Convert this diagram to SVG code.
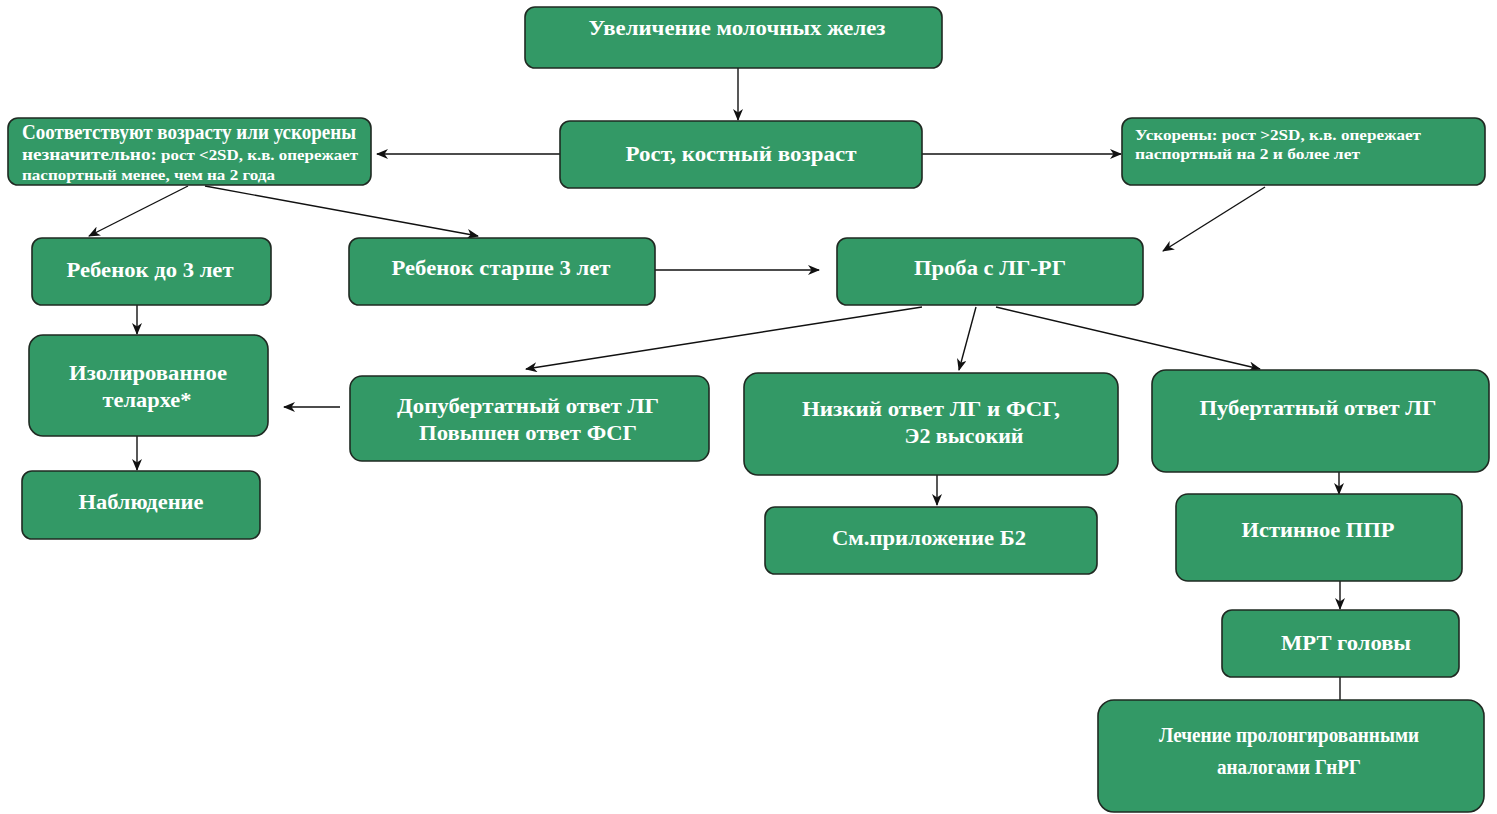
<svg xmlns="http://www.w3.org/2000/svg" width="1497" height="814" viewBox="0 0 1497 814">
<defs>
<style>
.n{fill:#339966;stroke:#1f2a22;stroke-width:1.6}
.t{font-family:"Liberation Serif","Times New Roman",serif;font-weight:bold;fill:#ffffff;font-size:20px}
.s{font-size:15px}
.c{stroke:#111;stroke-width:1.4;fill:none}
.a{marker-end:url(#ah)}
</style>
<marker id="ah" viewBox="0 0 12 10" refX="11" refY="5" markerWidth="12" markerHeight="10" markerUnits="userSpaceOnUse" orient="auto">
<path d="M0,0 L12,5 L0,10 L3.5,5 z" fill="#111"/>
</marker>
</defs>
<rect width="1497" height="814" fill="#ffffff"/>
<g id="connectors">
<line class="c a" x1="738" y1="68" x2="738" y2="120"/>
<line class="c a" x1="560" y1="154" x2="377" y2="154"/>
<line class="c a" x1="922" y1="154" x2="1121" y2="154"/>
<line class="c a" x1="188" y1="186" x2="89" y2="236"/>
<line class="c a" x1="205" y1="186" x2="478" y2="236"/>
<line class="c a" x1="1265" y1="187" x2="1163" y2="251"/>
<line class="c a" x1="655" y1="270" x2="819" y2="270"/>
<line class="c a" x1="922" y1="307" x2="526" y2="369"/>
<line class="c a" x1="976" y1="307" x2="959" y2="370"/>
<line class="c a" x1="996" y1="307" x2="1260" y2="369"/>
<line class="c a" x1="137" y1="305" x2="137" y2="334"/>
<line class="c a" x1="340" y1="407" x2="284" y2="407"/>
<line class="c a" x1="137" y1="436" x2="137" y2="470"/>
<line class="c a" x1="937" y1="475" x2="937" y2="505"/>
<line class="c a" x1="1339" y1="472" x2="1339" y2="494"/>
<line class="c a" x1="1340" y1="581" x2="1340" y2="609"/>
<line class="c" x1="1340" y1="677" x2="1340" y2="700"/>
</g>
<g id="n1"><rect class="n" x="525" y="7" width="417" height="61" rx="10"/>
<text class="t" x="737" y="35" text-anchor="middle" textLength="297" lengthAdjust="spacingAndGlyphs">Увеличение  молочных желез</text></g>
<g id="n2"><rect class="n" x="560" y="121" width="362" height="67" rx="10"/>
<text class="t" x="741" y="161" text-anchor="middle" textLength="231" lengthAdjust="spacingAndGlyphs">Рост, костный возраст</text></g>
<g id="n3"><rect class="n" x="8" y="118" width="363" height="67" rx="10"/>
<text class="t" x="22" y="139" font-size="17" textLength="334" lengthAdjust="spacingAndGlyphs">Соответствуют возрасту или ускорены</text>
<text class="t s" x="22" y="160" textLength="336" lengthAdjust="spacingAndGlyphs"><tspan font-size="17">незначительно:</tspan> рост &lt;2SD, к.в. опережает</text>
<text class="t s" x="22" y="180" textLength="253" lengthAdjust="spacingAndGlyphs">паспортный менее, чем на 2 года</text></g>
<g id="n4"><rect class="n" x="1122" y="118" width="363" height="67" rx="10"/>
<text class="t s" x="1135" y="140" textLength="286" lengthAdjust="spacingAndGlyphs">Ускорены: рост &gt;2SD, к.в. опережает</text>
<text class="t s" x="1135" y="159" textLength="225" lengthAdjust="spacingAndGlyphs">паспортный  на 2 и более лет</text></g>
<g id="n5"><rect class="n" x="32" y="238" width="239" height="67" rx="10"/>
<text class="t" x="150" y="277" text-anchor="middle" textLength="167" lengthAdjust="spacingAndGlyphs">Ребенок до 3 лет</text></g>
<g id="n6"><rect class="n" x="349" y="238" width="306" height="67" rx="10"/>
<text class="t" x="501" y="275" text-anchor="middle" textLength="219" lengthAdjust="spacingAndGlyphs">Ребенок старше 3 лет</text></g>
<g id="n7"><rect class="n" x="837" y="238" width="306" height="67" rx="10"/>
<text class="t" x="990" y="275" text-anchor="middle" textLength="152" lengthAdjust="spacingAndGlyphs">Проба с ЛГ-РГ</text></g>
<g id="n8"><rect class="n" x="29" y="335" width="239" height="101" rx="14"/>
<text class="t" x="148" y="380" text-anchor="middle" textLength="158" lengthAdjust="spacingAndGlyphs">Изолированное</text>
<text class="t" x="147" y="407" text-anchor="middle" textLength="89" lengthAdjust="spacingAndGlyphs">телархе*</text></g>
<g id="n9"><rect class="n" x="22" y="471" width="238" height="68" rx="10"/>
<text class="t" x="141" y="509" text-anchor="middle" textLength="125" lengthAdjust="spacingAndGlyphs">Наблюдение</text></g>
<g id="n10"><rect class="n" x="350" y="376" width="359" height="85" rx="12"/>
<text class="t" x="528" y="413" text-anchor="middle" textLength="262" lengthAdjust="spacingAndGlyphs">Допубертатный  ответ ЛГ</text>
<text class="t" x="528" y="440" text-anchor="middle" textLength="218" lengthAdjust="spacingAndGlyphs">Повышен ответ ФСГ</text></g>
<g id="n11"><rect class="n" x="744" y="373" width="374" height="102" rx="14"/>
<text class="t" x="931" y="416" text-anchor="middle" textLength="258" lengthAdjust="spacingAndGlyphs">Низкий ответ ЛГ и ФСГ,</text>
<text class="t" x="964" y="443" text-anchor="middle" textLength="119" lengthAdjust="spacingAndGlyphs">Э2 высокий</text></g>
<g id="n12"><rect class="n" x="1152" y="370" width="337" height="102" rx="14"/>
<text class="t" x="1318" y="415" text-anchor="middle" textLength="237" lengthAdjust="spacingAndGlyphs">Пубертатный ответ ЛГ</text></g>
<g id="n13"><rect class="n" x="765" y="507" width="332" height="67" rx="10"/>
<text class="t" x="929" y="545" text-anchor="middle" textLength="194" lengthAdjust="spacingAndGlyphs">См.приложение  Б2</text></g>
<g id="n14"><rect class="n" x="1176" y="494" width="286" height="87" rx="12"/>
<text class="t" x="1318" y="537" text-anchor="middle" textLength="153" lengthAdjust="spacingAndGlyphs">Истинное ППР</text></g>
<g id="n15"><rect class="n" x="1222" y="610" width="237" height="67" rx="10"/>
<text class="t" x="1346" y="650" text-anchor="middle" textLength="130" lengthAdjust="spacingAndGlyphs">МРТ головы</text></g>
<g id="n16"><rect class="n" x="1098" y="700" width="386" height="112" rx="16"/>
<text class="t" x="1289" y="742" text-anchor="middle" font-size="18" textLength="260" lengthAdjust="spacingAndGlyphs">Лечение пролонгированными</text>
<text class="t" x="1289" y="774" text-anchor="middle" font-size="18" textLength="144" lengthAdjust="spacingAndGlyphs">аналогами ГнРГ</text></g>
</svg>
